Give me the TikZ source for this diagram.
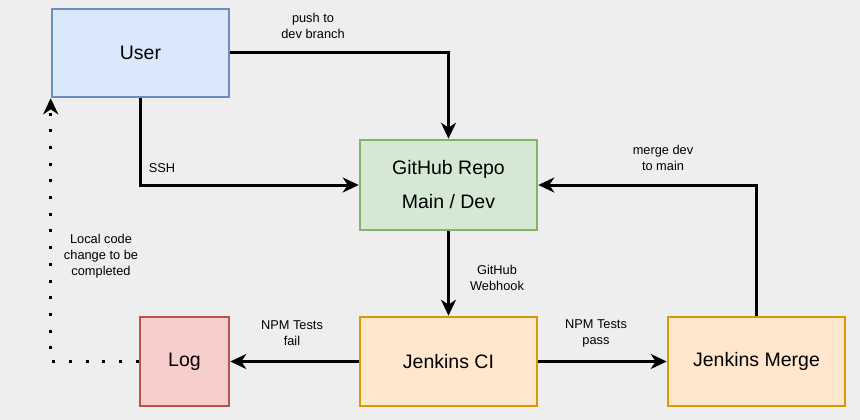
\documentclass[tikz,border=0pt]{standalone}
\usepackage{fontspec}
\setmainfont{Liberation Sans}
\usetikzlibrary{arrows.meta}
\definecolor{bg}{HTML}{EEEEEE}
\definecolor{userfill}{HTML}{DAE8FC}\definecolor{userdraw}{HTML}{6C8EBF}
\definecolor{ghfill}{HTML}{D5E8D4}\definecolor{ghdraw}{HTML}{82B366}
\definecolor{logfill}{HTML}{F8CECC}\definecolor{logdraw}{HTML}{B85450}
\definecolor{jfill}{HTML}{FFE6CC}\definecolor{jdraw}{HTML}{D79B00}
\tikzset{
  box/.style={rectangle, line width=2.6pt, inner sep=0pt, align=center,
    font=\fontsize{19.5}{34}\selectfont},
  conn/.style={line width=3pt, -{Stealth[length=16pt,width=15pt,inset=5pt]}},
  dotconn/.style={line width=3pt, dash pattern=on 3pt off 13.7pt,
    -{Stealth[length=16pt,width=15pt,inset=5pt]}},
  lbl/.style={font=\fontsize{12.8}{16}\selectfont, align=center, inner sep=0pt}
}
\begin{document}
\begin{tikzpicture}[x=1pt,y=-1pt]
\fill[bg] (0,0) rectangle (860,420);
\useasboundingbox (0,0) rectangle (860,420);
\node[box, fill=userfill, draw=userdraw, minimum width=177pt, minimum height=88pt] (user) at (140.5,53) {User};
\node[box, fill=ghfill, draw=ghdraw, minimum width=177pt, minimum height=90pt] (gh) at (448.5,185) {GitHub Repo\\Main / Dev};
\node[box, fill=logfill, draw=logdraw, minimum width=89pt, minimum height=89pt] (log) at (184.5,361.5) {Log};
\node[box, fill=jfill, draw=jdraw, minimum width=177pt, minimum height=89pt] (ci) at (448.5,361.5) {Jenkins CI};
\node[box, fill=jfill, draw=jdraw, minimum width=177pt, minimum height=89pt] (merge) at (756.5,361.5) {Jenkins Merge};

\draw[conn] (user.east) -| (gh.north);
\draw[conn] (user.south) |- (gh.west);
\draw[conn] (gh.south) -- (ci.north);
\draw[conn] (ci.west) -- (log.east);
\draw[conn] (ci.east) -- (merge.west);
\draw[conn] (merge.north) |- (gh.east);
\draw[dotconn] (log.west) -| (user.south west);

\node[lbl] (l1) at (313,26) {push to\\dev branch};
\node[lbl] (l2) at (162,168) {SSH};
\node[lbl] (l3) at (663,158) {merge dev\\to main};
\node[lbl] (l4) at (497,278) {GitHub\\Webhook};
\node[lbl] (l5) at (292,333) {NPM Tests\\fail};
\node[lbl] (l6) at (596,333) {NPM Tests\\pass};
\node[lbl] (l7) at (101,256) {Local code\\change to be\\completed};
\end{tikzpicture}
\end{document}
